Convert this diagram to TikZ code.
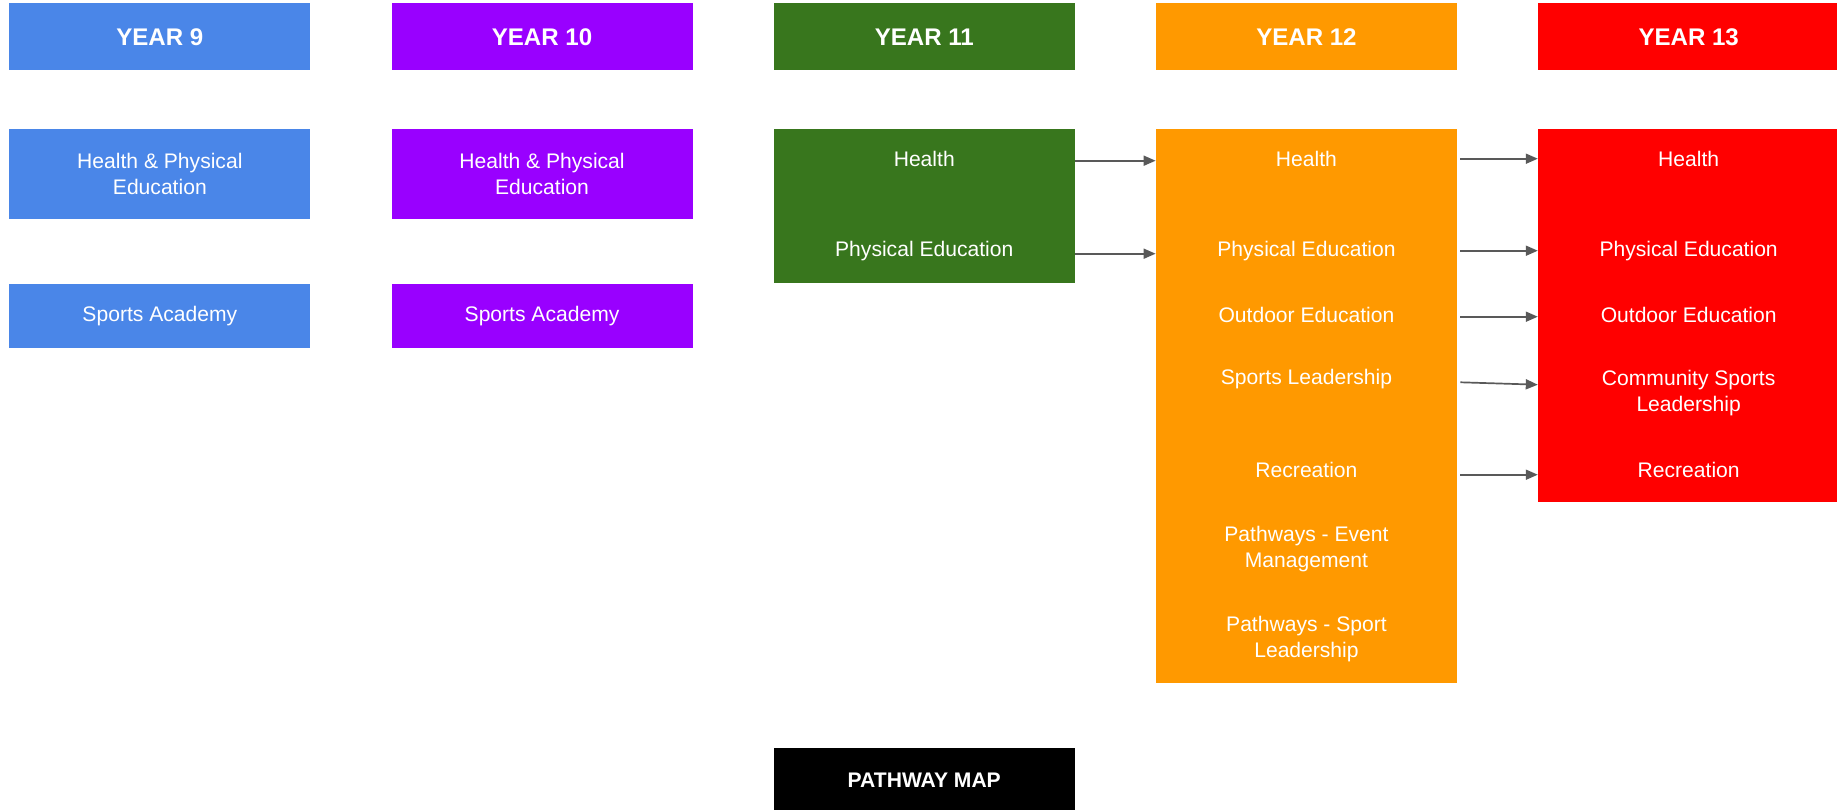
\documentclass[tikz,border=0pt]{standalone}
\usepackage{fontspec}
\setmainfont{Liberation Sans}
\usepackage{tikz}
\usetikzlibrary{positioning, arrows.meta}
\definecolor{yearnine}{HTML}{4A86E8}
\definecolor{yearten}{HTML}{9900FF}
\definecolor{yeareleven}{HTML}{38761D}
\definecolor{yeartwelve}{HTML}{FF9900}
\definecolor{yearthirteen}{HTML}{FF0000}
\definecolor{arrowgray}{HTML}{595959}
\tikzstyle{header} = [rectangle, minimum width=6.02cm, minimum height=1.34cm, inner sep=0pt, text=white, font=\fontsize{13.7}{16}\selectfont\bfseries]
\tikzstyle{course} = [rectangle, minimum width=6.02cm, inner sep=0pt, text=white, align=center, font=\fontsize{12}{14.8}\selectfont]
\tikzstyle{column} = [rectangle, minimum width=6.02cm, inner sep=0pt]
\tikzstyle{item} = [minimum width=6.02cm, inner sep=0pt, text=white, align=center, font=\fontsize{12}{14.8}\selectfont]
\tikzstyle{pathway} = [rectangle, minimum width=6.02cm, minimum height=1.28cm, inner sep=0pt, fill=black, text=white, font=\fontsize{12}{14}\selectfont\bfseries]
\tikzstyle{arrow} = [line width=0.034cm, -{Triangle[length=0.24cm, width=0.2cm]}, draw=arrowgray]

\begin{document}
\begin{tikzpicture}[node distance=1.61cm]
        \useasboundingbox (0,0) rectangle (36.74,-16.2);

        % Cabeçalhos dos anos
        \node (year9) [header, fill=yearnine, anchor=north west] at (0.18,-0.06) {YEAR 9};
        \node (year10) [header, fill=yearten, right=of year9] {YEAR 10};
        \node (year11) [header, fill=yeareleven, right=of year10] {YEAR 11};
        \node (year12) [header, fill=yeartwelve, right=of year11] {YEAR 12};
        \node (year13) [header, fill=yearthirteen, right=of year12] {YEAR 13};

        % Year 9 e Year 10
        \node (hpe9) [course, fill=yearnine, minimum height=1.8cm, below=1.16cm of year9] {Health \& Physical\\Education};
        \node (sa9) [course, fill=yearnine, minimum height=1.28cm, below=1.28cm of hpe9] {Sports Academy};
        \node (hpe10) [course, fill=yearten, minimum height=1.8cm, below=1.16cm of year10] {Health \& Physical\\Education};
        \node (sa10) [course, fill=yearten, minimum height=1.28cm, below=1.28cm of hpe10] {Sports Academy};

        % Year 11
        \node (green) [column, fill=yeareleven, minimum height=3.08cm, below=1.16cm of year11] {};
        \node (health11) [item] at ([yshift=-0.6cm]green.north) {Health};
        \node (pe11) [item] at ([yshift=-2.44cm]green.north) {Physical Education};

        % Year 12
        \node (orange) [column, fill=yeartwelve, minimum height=11.08cm, below=1.16cm of year12] {};
        \node (health12) [item] at ([yshift=-0.6cm]orange.north) {Health};
        \node (pe12) [item] at ([yshift=-2.44cm]orange.north) {Physical Education};
        \node (outdoor12) [item] at ([yshift=-3.72cm]orange.north) {Outdoor Education};
        \node (lead12) [item] at ([yshift=-5.01cm]orange.north) {Sports Leadership};
        \node (rec12) [item] at ([yshift=-6.82cm]orange.north) {Recreation};
        \node (event12) [item] at ([yshift=-8.4cm]orange.north) {Pathways - Event\\Management};
        \node (sport12) [item] at ([yshift=-10.2cm]orange.north) {Pathways - Sport\\Leadership};

        % Year 13
        \node (red) [column, fill=yearthirteen, minimum height=7.46cm, below=1.16cm of year13] {};
        \node (health13) [item] at ([yshift=-0.6cm]red.north) {Health};
        \node (pe13) [item] at ([yshift=-2.44cm]red.north) {Physical Education};
        \node (outdoor13) [item] at ([yshift=-3.72cm]red.north) {Outdoor Education};
        \node (lead13) [item] at ([yshift=-5.28cm]red.north) {Community Sports\\Leadership};
        \node (rec13) [item] at ([yshift=-6.82cm]red.north) {Recreation};

        % Legenda
        \node (map) [pathway, below=9.28cm of green] {PATHWAY MAP};

        % Setas entre os anos
        \draw [arrow] ([yshift=-0.04cm]health11.east) -- ([yshift=-0.04cm]health12.west);
        \draw [arrow] ([yshift=-0.06cm]pe11.east) -- ([yshift=-0.06cm]pe12.west);
        \draw [arrow, shorten <=0.06cm] (health12.east) -- (health13.west);
        \draw [arrow, shorten <=0.06cm] (pe12.east) -- (pe13.west);
        \draw [arrow, shorten <=0.06cm] ([yshift=-0.04cm]outdoor12.east) -- ([yshift=-0.04cm]outdoor13.west);
        \draw [arrow, shorten <=0.06cm] ([yshift=-0.06cm]lead12.east) -- ([yshift=0.16cm]lead13.west);
        \draw [arrow, shorten <=0.06cm] ([yshift=-0.1cm]rec12.east) -- ([yshift=-0.1cm]rec13.west);

\end{tikzpicture}
\end{document}
